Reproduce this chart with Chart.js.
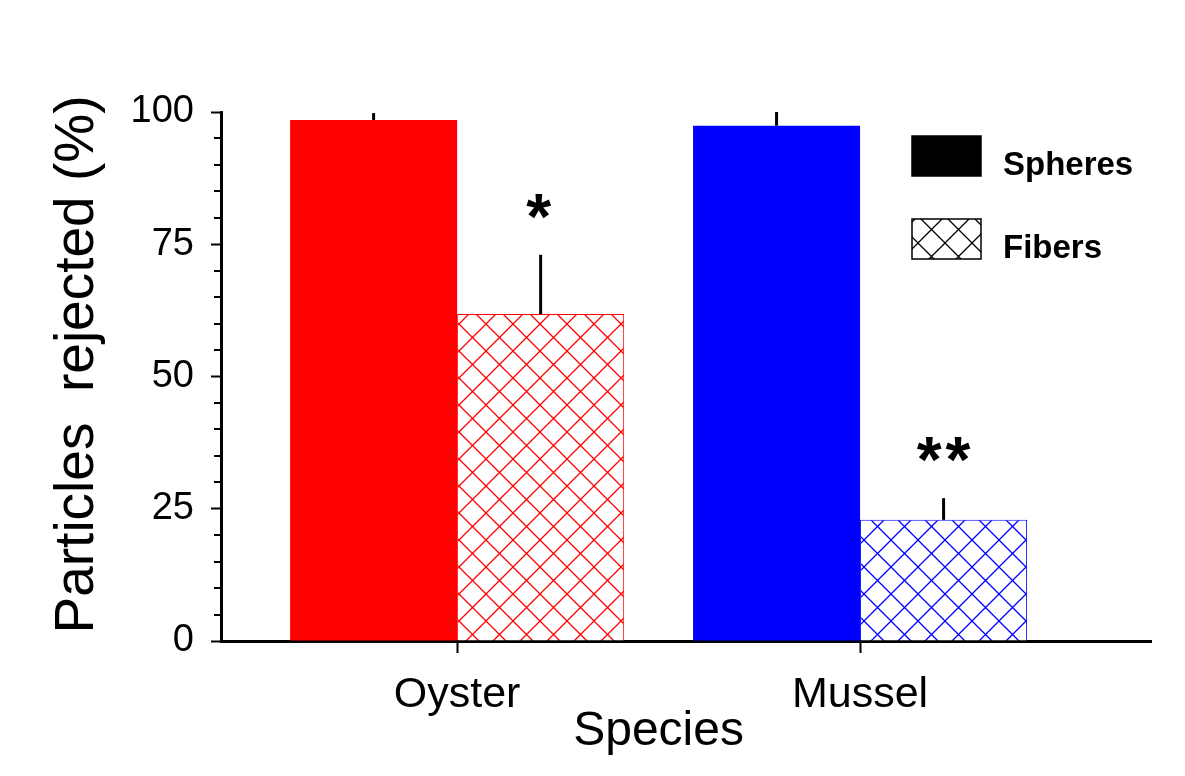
<!DOCTYPE html>
<html lang="en">
<head>
  <meta charset="UTF-8" />
  <title>Particles rejected</title>
  <script src="https://cdn.jsdelivr.net/npm/chart.js"></script>
  <style>
    body { margin: 0; background: #fff; }
    #wrap { width: 1185px; height: 776px; }
  </style>
</head>
<body>
  <div id="wrap"><canvas id="myChart"></canvas></div>

  <script>
    const species = ['Oyster', 'Mussel'];
    const spheres = [98.5, 97.4];
    const spheresErr = [1.3, 2.6];
    const fibers = [61.8, 22.9];
    const fibersErr = [11.2, 4.1];
    const fibersSig = ['*', '**'];
    const yTicks = [0, 25, 50, 75, 100];
    const yMinorStep = 5;
    const yTitle = 'Particles  rejected (%)';
    const xTitle = 'Species';

    const FONT = "'Liberation Sans', Arial, sans-serif";
    const ctx = document.getElementById('myChart').getContext('2d');

    // cross hatch fill, lines at 45 degrees
    function hatch(color) {
      const n = 27;
      const c = document.createElement('canvas');
      c.width = n; c.height = n;
      const g = c.getContext('2d');
      g.fillStyle = '#fff';
      g.fillRect(0, 0, n, n);
      g.strokeStyle = color;
      g.lineWidth = 1.3;
      g.beginPath();
      g.moveTo(-2, -2); g.lineTo(n + 2, n + 2);
      g.moveTo(n + 2, -2); g.lineTo(-2, n + 2);
      g.stroke();
      return ctx.createPattern(c, 'repeat');
    }

    const extras = {
      id: 'extras',
      afterDatasetsDraw(chart) {
        const c = chart.ctx;
        const y = chart.scales.y;
        c.save();
        c.strokeStyle = '#000';
        c.lineWidth = 3;
        chart.data.datasets.forEach((ds, di) => {
          chart.getDatasetMeta(di).data.forEach((bar, i) => {
            const top = y.getPixelForValue(ds.data[i].y + ds.err[i]);
            c.beginPath();
            c.moveTo(bar.x, bar.y);
            c.lineTo(bar.x, top);
            c.stroke();
          });
        });
        c.restore();
      },
      afterDraw(chart) {
        const c = chart.ctx;
        const {x, y} = chart.scales;
        const area = chart.chartArea;
        c.save();

        // minor ticks on the y axis
        c.strokeStyle = '#000';
        c.lineWidth = 2;
        for (let v = y.min; v <= y.max; v += yMinorStep) {
          if (yTicks.includes(v)) continue;
          const py = Math.round(y.getPixelForValue(v));
          c.beginPath();
          c.moveTo(area.left - 7, py);
          c.lineTo(area.left, py);
          c.stroke();
        }

        // significance marks
        const fds = chart.data.datasets[1];
        c.fillStyle = '#000';
        c.font = 'bold 64px ' + FONT;
        c.textAlign = 'center';
        c.textBaseline = 'alphabetic';
        c.letterSpacing = '4px';
        chart.getDatasetMeta(1).data.forEach((bar, i) => {
          const top = y.getPixelForValue(fds.data[i].y + fds.err[i]);
          c.fillText(fds.sig[i], bar.x + (fds.sig[i].length > 1 ? 2 : 0), top - 16);
        });
        c.letterSpacing = '0px';

        // x axis title, centred between the two species
        c.font = '48px ' + FONT;
        c.fillText(xTitle, (x.getPixelForValue(1) + x.getPixelForValue(2)) / 2, 745);

        // y axis title
        c.save();
        c.translate(78, (area.top + area.bottom) / 2 - 12);
        c.rotate(-Math.PI / 2);
        c.font = '55px ' + FONT;
        c.textBaseline = 'middle';
        c.fillText(yTitle, 0, 0);
        c.restore();

        // legend
        const lx = area.right - 239;
        let ly = area.top + 24;
        c.textAlign = 'left';
        c.font = 'bold 33px ' + FONT;
        chart.data.datasets.forEach((ds) => {
          c.fillStyle = ds.legendFill;
          c.fillRect(lx, ly, 69, 40);
          c.strokeStyle = '#000';
          c.lineWidth = 1.5;
          c.strokeRect(lx, ly, 69, 40);
          c.fillStyle = '#000';
          c.fillText(ds.label, lx + 91, ly + 39);
          ly += 83;
        });
        c.restore();
      }
    };

    const chart = new Chart(ctx, {
      type: 'bar',
      data: {
        datasets: [
          {
            label: 'Spheres',
            data: species.map((s, i) => ({ x: i + 1, y: spheres[i] })),
            err: spheresErr,
            backgroundColor: ['#ff0000', '#0000ff'],
            borderWidth: 0,
            legendFill: '#000'
          },
          {
            label: 'Fibers',
            data: species.map((s, i) => ({ x: i + 1, y: fibers[i] })),
            err: fibersErr,
            sig: fibersSig,
            backgroundColor: [hatch('#ff0000'), hatch('#0000ff')],
            borderColor: ['#ff0000', '#0000ff'],
            borderWidth: 1,
            legendFill: hatch('#000')
          }
        ]
      },
      options: {
        responsive: true,
        maintainAspectRatio: false,
        animation: false,
        categoryPercentage: 0.829,
        barPercentage: 1,
        layout: { padding: { left: 0, top: 112, right: 34, bottom: 0 } },
        plugins: {
          legend: { display: false },
          tooltip: { enabled: false }
        },
        scales: {
          x: {
            type: 'linear',
            min: 0.414,
            max: 2.722,
            offset: false,
            z: 1,
            afterBuildTicks: (s) => { s.ticks = species.map((n, i) => ({ value: i + 1 })); },
            afterFit: (s) => { s.height = 135; },
            grid: { offset: false, drawOnChartArea: false, tickLength: 12, tickWidth: 2, tickColor: '#000' },
            border: { display: true, color: '#000', width: 3 },
            ticks: {
              callback: (v) => species[v - 1],
              font: { family: FONT, size: 43 },
              color: '#000',
              padding: 16,
              maxRotation: 0
            }
          },
          y: {
            min: 0,
            max: 100,
            z: 1,
            afterBuildTicks: (s) => { s.ticks = yTicks.map((v) => ({ value: v })); },
            afterFit: (s) => { s.width = 221; },
            grid: { drawOnChartArea: false, tickLength: 10, tickWidth: 2, tickColor: '#000' },
            border: { display: true, color: '#000', width: 3 },
            ticks: {
              font: { family: FONT, size: 38 },
              color: '#000',
              padding: 17
            }
          }
        }
      },
      plugins: [extras]
    });
  </script>
</body>
</html>
